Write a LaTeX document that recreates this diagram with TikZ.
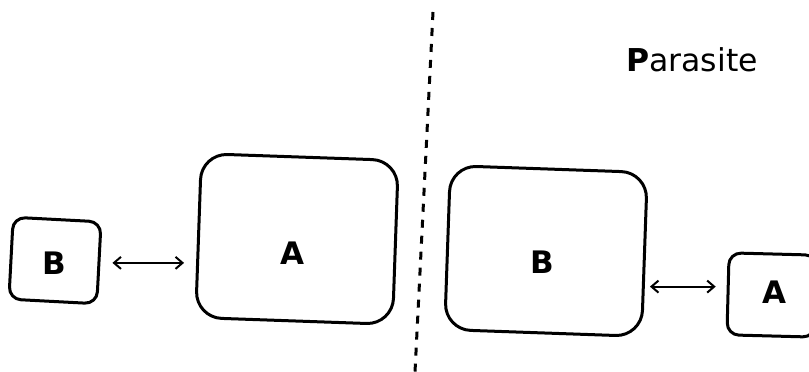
\documentclass[tikz,border=0pt]{standalone}
\usepackage{fontspec}
\setmainfont{DejaVu Sans}
\usetikzlibrary{arrows.meta}
\begin{document}
\begin{tikzpicture}[x=1pt,y=1pt,
  smallbox/.style={draw,line width=3pt,rounded corners=12pt,inner sep=0pt,minimum width=88pt,minimum height=82pt},
  bigbox/.style={draw,line width=3pt,rounded corners=26pt,inner sep=0pt,minimum width=197pt,minimum height=164pt},
  lbl/.style={font=\fontsize{31}{31}\selectfont\bfseries,inner sep=0pt},
  link/.style={line width=2pt,{Straight Barb[length=7pt,width=12pt,line width=2pt]}-{Straight Barb[length=7pt,width=12pt,line width=2pt]}}]
\useasboundingbox (0,0) rectangle (809,372);
\fill[white] (0,0) rectangle (809,372);
% boxes
\node[smallbox,rotate=-3] (Bl) at (55,111.5) {};
\node[bigbox,rotate=-2] (Al) at (297,133) {};
\node[bigbox,rotate=-2] (Br) at (546,121) {};
\node[smallbox,rotate=-1.5] (Ar) at (772,77) {};
% labels
\node[lbl] (tBl) at (54,109) {B};
\node[lbl] (tAl) at (292,119) {A};
\node[lbl] (tBr) at (542,110) {B};
\node[lbl] (tAr) at (774,80) {A};
% connectors
\draw[link,shorten <=12pt,shorten >=13pt] (Bl.east) -- (Bl.east -| Al.west);
\draw[link,shorten <=4pt,shorten >=11pt] (Br.east |- Ar.171) -- (Ar.171);
% divider
\coordinate (dtop) at (433,360);
\coordinate (dbot) at (415,0);
\draw[line width=3pt,dash pattern=on 8pt off 8pt] (dtop) -- (dbot);
% title
\node[anchor=base west,inner sep=0pt,font=\fontsize{31.5}{31.5}\selectfont] (title) at (626,300) {\textbf{P}arasite};
\end{tikzpicture}
\end{document}
